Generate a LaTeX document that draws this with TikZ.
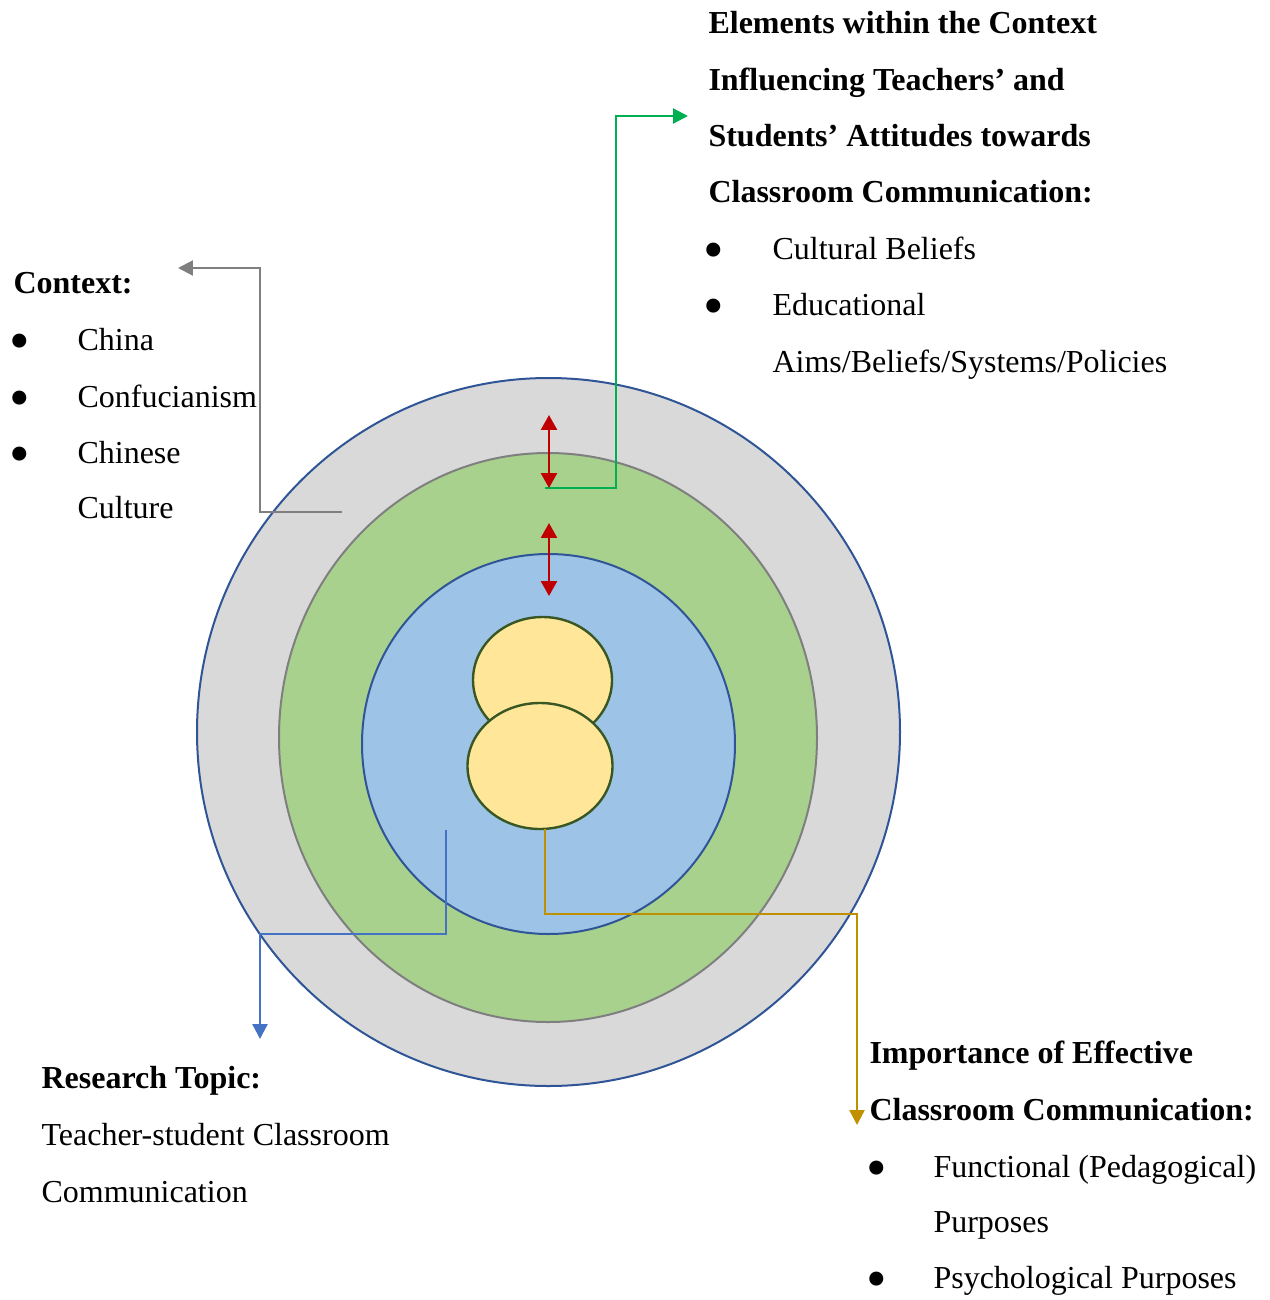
\documentclass[tikz,border=0pt]{standalone}
\usepackage{fontspec}
\setmainfont{Liberation Serif}
\usetikzlibrary{arrows.meta}
\definecolor{ringgray}{HTML}{D9D9D9}
\definecolor{ringblue}{HTML}{2F5597}
\definecolor{ringgreen}{HTML}{A9D18E}
\definecolor{greenedge}{HTML}{7F7F7F}
\definecolor{innerblue}{HTML}{9DC3E6}
\definecolor{coreyellow}{HTML}{FFE699}
\definecolor{coreedge}{HTML}{385723}
\definecolor{arrred}{HTML}{C00000}
\definecolor{lngreen}{HTML}{00B050}
\definecolor{lngray}{HTML}{7F7F7F}
\definecolor{lnblue}{HTML}{4472C4}
\definecolor{lngold}{HTML}{BF9000}
\begin{document}
\begin{tikzpicture}[x=0.375pt,y=-0.375pt,
  txt/.style={inner sep=0pt, anchor=base west, font=\fontsize{12}{14}\selectfont},
  hd/.style={inner sep=0pt, anchor=base west, font=\fontsize{12}{14}\selectfont\bfseries},
  bul/.style={inner sep=0pt, anchor=base, font=\fontsize{22}{24}\selectfont},
  conn/.style={line width=0.85pt, -{Triangle[length=5.6pt,width=5.6pt]}},
  dbl/.style={line width=0.85pt, draw=arrred, {Triangle[length=5.6pt,width=6pt]}-{Triangle[length=5.6pt,width=6pt]}}]
\useasboundingbox (0,0) rectangle (1270,1300);
% rings
\filldraw[fill=ringgray, draw=ringblue, line width=0.75pt] (548.5,732) ellipse [x radius=351.5, y radius=354];
\filldraw[fill=ringgreen, draw=greenedge, line width=0.75pt] (548,737.5) ellipse [x radius=269, y radius=284.5];
\filldraw[fill=innerblue, draw=ringblue, line width=0.75pt] (548.5,744) ellipse [x radius=186.5, y radius=190];
\filldraw[fill=coreyellow, draw=coreedge, line width=0.9pt] (542.5,680) ellipse [x radius=69.5, y radius=63];
\filldraw[fill=coreyellow, draw=coreedge, line width=0.9pt] (540,766) ellipse [x radius=72.5, y radius=63];
% connector coordinates
\coordinate (gS) at (342,512); \coordinate (gC) at (260,512); \coordinate (gE) at (178,268);
\coordinate (gnS) at (545,488); \coordinate (gnC) at (616,488); \coordinate (gnE) at (688,116);
\coordinate (bS) at (446,830); \coordinate (bC) at (446,934); \coordinate (bE) at (260,1039);
\coordinate (oS) at (545,829); \coordinate (oC) at (545,914); \coordinate (oE) at (857,1125);
\coordinate (r1a) at (549,415); \coordinate (r1b) at (549,488);
\coordinate (r2a) at (549,523); \coordinate (r2b) at (549,596);
% connectors
\draw[conn, draw=lngray, color=lngray] (gS) -- (gC) |- (gE);
\draw[conn, draw=lnblue, color=lnblue] (bS) -- (bC) -| (bE);
\draw[conn, draw=lngold, color=lngold] (oS) -- (oC) -| (oE);
\draw[conn, draw=lngreen, color=lngreen] (gnS) -- (gnC) |- (gnE);
\draw[dbl, color=arrred] (r1a) -- (r1b);
\draw[dbl, color=arrred] (r2a) -- (r2b);
% top-right text
\node[hd] (t1) at (708,33) {Elements within the Context};
\node[hd] (t2) at (708,90) {Influencing Teachers’ and};
\node[hd] (t3) at (708,146) {Students’ Attitudes towards};
\node[hd] (t4) at (708,202) {Classroom Communication:};
\node[bul] (tb1) at (714,269) {•};
\node[txt] (t5) at (772,259) {Cultural Beliefs};
\node[bul] (tb2) at (714,325) {•};
\node[txt] (t6) at (772,315) {Educational};
\node[txt] (t7) at (772,372) {Aims/Beliefs/Systems/Policies};
% left text
\node[hd] (c1) at (13,293) {Context:};
\node[bul] (cb1) at (20,360) {•};
\node[txt] (c2) at (77,350) {China};
\node[bul] (cb2) at (20,417) {•};
\node[txt] (c3) at (77,407) {Confucianism};
\node[bul] (cb3) at (20,473) {•};
\node[txt] (c4) at (77,463) {Chinese};
\node[txt] (c5) at (77,518) {Culture};
% bottom-left text
\node[hd] (r1) at (41,1088) {Research Topic:};
\node[txt] (r2) at (41,1145) {Teacher-student Classroom};
\node[txt] (r3) at (41,1202) {Communication};
% bottom-right text
\node[hd] (i1) at (869,1063) {Importance of Effective};
\node[hd] (i2) at (869,1120) {Classroom Communication:};
\node[bul] (ib1) at (877,1187) {•};
\node[txt] (i3) at (933,1177) {Functional (Pedagogical)};
\node[txt] (i4) at (933,1232) {Purposes};
\node[bul] (ib2) at (877,1298) {•};
\node[txt] (i5) at (933,1288) {Psychological Purposes};
\end{tikzpicture}
\end{document}
